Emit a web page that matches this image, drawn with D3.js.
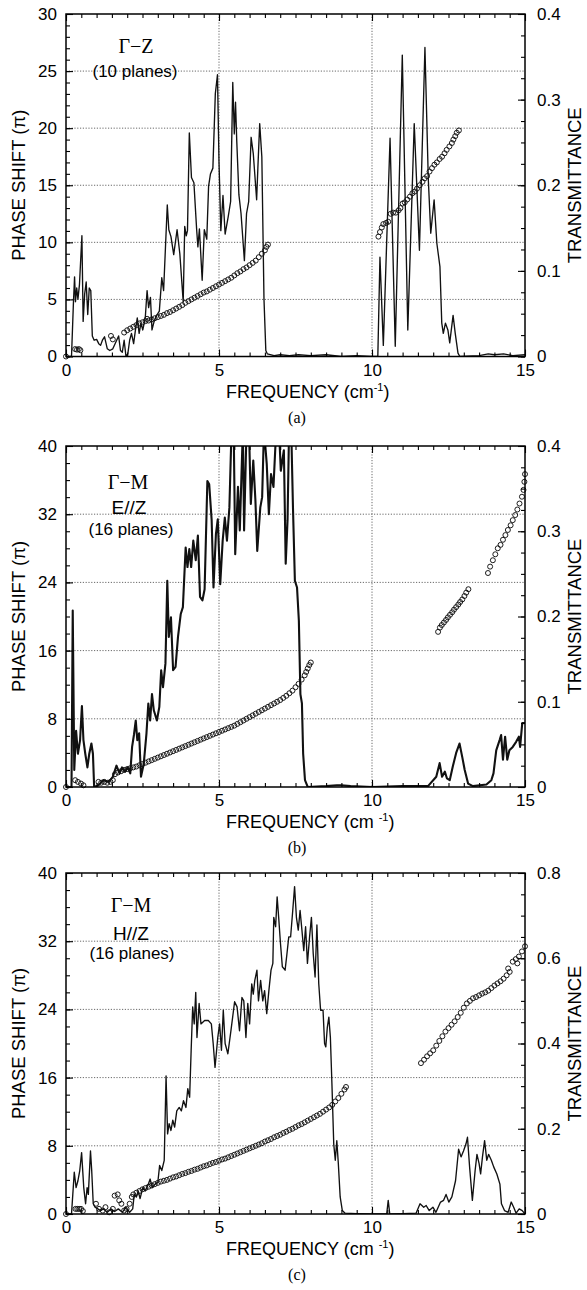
<!DOCTYPE html>
<html>
<head>
<meta charset="utf-8">
<script src="https://cdn.jsdelivr.net/npm/d3@7"></script>
<style>
body { margin: 0; background: #fff; }
</style>
</head>
<body>
<script>
// ---- data ----
var freqTicks = [0, 5, 10, 15];
var phaseTicksA = [0, 5, 10, 15, 20, 25, 30];
var transTicksA = [0, 0.1, 0.2, 0.3, 0.4];
var phaseTicksB = [0, 8, 16, 24, 32, 40];
var transTicksB = [0, 0.1, 0.2, 0.3, 0.4];
var phaseTicksC = [0, 8, 16, 24, 32, 40];
var transTicksC = [0, 0.2, 0.4, 0.6, 0.8];

// (a) Gamma-Z, phase shift (pi) as circles, transmittance as line
var phaseA = [[0,0],[0.3,0.65],[0.36,0.6],[0.42,0.65],[0.47,0.55],[1.47,1.8],[1.53,1.5],
  [1.9,2.1],[2.0,2.3],[2.1,2.45],[2.2,2.6],[2.3,2.75],[2.4,2.9],[2.5,3.0],[2.6,3.1],[2.65,3.3],
  [2.7,3.15],[2.8,3.25],[2.9,3.35],[3.0,3.45],[3.1,3.55],[3.2,3.65],[3.3,3.8],[3.4,3.9],[3.5,4.05],
  [3.6,4.2],[3.7,4.35],[3.8,4.5],[3.9,4.7],[4.0,4.85],[4.1,5.0],[4.2,5.15],[4.3,5.3],[4.4,5.45],
  [4.5,5.6],[4.6,5.7],[4.7,5.85],[4.8,6.0],[4.9,6.15],[5.0,6.3],[5.1,6.45],[5.2,6.6],[5.3,6.75],
  [5.4,6.9],[5.5,7.1],[5.6,7.3],[5.7,7.45],[5.8,7.65],[5.9,7.8],[6.0,8.0],[6.1,8.2],[6.2,8.4],
  [6.3,8.7],[6.4,9.0],[6.5,9.3],[6.55,9.6],[6.6,9.8],
  [10.21,10.5],[10.26,10.9],[10.32,11.3],[10.37,11.6],[10.46,11.7],[10.53,11.8],[10.61,12.5],
  [10.69,12.6],[10.78,12.6],[10.87,12.8],[10.93,13.0],[11.0,13.4],[11.07,13.5],[11.15,13.75],
  [11.24,14.0],[11.32,14.3],[11.4,14.45],[11.47,14.7],[11.56,15.0],[11.65,15.3],[11.72,15.6],
  [11.8,15.8],[11.88,16.2],[11.96,16.5],[12.04,16.8],[12.12,17.0],[12.21,17.3],[12.29,17.5],
  [12.37,17.8],[12.44,18.1],[12.53,18.4],[12.61,18.7],[12.66,19.0],[12.72,19.3],[12.77,19.6],[12.84,19.8]];
var transA = [[0,0],[0.18,0],[0.24,0.060],[0.28,0.093],[0.31,0.064],[0.35,0.080],[0.39,0.067],
  [0.44,0.084],[0.49,0.120],[0.52,0.141],[0.56,0.041],[0.61,0.073],[0.66,0.087],[0.71,0.049],
  [0.76,0.080],[0.81,0.077],[0.86,0.024],[0.92,0.019],[1.00,0.020],[1.07,0.015],[1.13,0.013],
  [1.19,0.019],[1.26,0.023],[1.35,0.009],[1.43,0.007],[1.53,0.009],[1.63,0.017],[1.72,0.024],
  [1.78,0.007],[1.84,0.005],[1.90,0.019],[1.96,0],[2.02,0.003],[2.08,0.019],[2.14,0.027],
  [2.21,0.015],[2.27,0.031],[2.33,0.045],[2.39,0.027],[2.45,0.039],[2.51,0.031],[2.59,0.045],
  [2.65,0.077],[2.70,0.057],[2.76,0.069],[2.81,0.031],[2.88,0.041],[2.98,0.049],[3.05,0.053],
  [3.13,0.092],[3.19,0.077],[3.25,0.127],[3.31,0.177],[3.36,0.148],[3.43,0.140],[3.52,0.119],
  [3.63,0.148],[3.72,0.120],[3.83,0.064],[3.88,0.152],[3.93,0.141],[3.97,0.147],[4.03,0.261],
  [4.10,0.209],[4.18,0.203],[4.27,0.148],[4.31,0.128],[4.36,0.149],[4.45,0.089],[4.52,0.148],
  [4.60,0.137],[4.66,0.199],[4.72,0.213],[4.80,0.220],[4.88,0.307],[4.95,0.329],[5.00,0.227],
  [5.06,0.147],[5.13,0.188],[5.20,0.143],[5.30,0.163],[5.38,0.181],[5.45,0.320],[5.50,0.260],
  [5.54,0.297],[5.58,0.252],[5.65,0.189],[5.72,0.167],[5.83,0.112],[5.90,0.167],[5.97,0.181],
  [6.05,0.256],[6.12,0.237],[6.23,0.183],[6.27,0.220],[6.33,0.272],[6.40,0.233],[6.47,0.067],
  [6.53,0.007],[6.58,0.003],[6.8,0.001],[7.0,0.002],[7.3,0.001],[7.6,0.002],[8.0,0.001],
  [8.5,0.002],[9.0,0],[9.5,0.001],[10.0,0],[10.19,0],[10.26,0.116],[10.37,0.013],[10.59,0.255],
  [10.76,0.012],[10.99,0.352],[11.17,0.031],[11.38,0.272],[11.55,0.124],[11.73,0.361],
  [11.84,0.207],[11.92,0.144],[12.03,0.183],[12.12,0.132],[12.22,0.105],[12.28,0.039],
  [12.33,0.027],[12.40,0.039],[12.48,0.031],[12.54,0.016],[12.65,0.048],[12.72,0.027],
  [12.81,0.004],[12.87,0],[13.5,0.001],[13.8,0.003],[14.0,0.002],[14.3,0.003],[14.6,0.001],[15,0.002]];

// (b) Gamma-M, E//Z
var phaseB = [[0,0],[0.3,0.8],[0.39,0.6],[0.49,0.4],[0.57,0.2],[1.06,0.6],[1.15,0.5],[1.25,0.6],
  [1.35,0.5],[1.45,0.6],[1.53,0.8],[1.6,1.5],[1.7,1.7],[1.8,1.85],[1.9,2.0],[2.0,2.1],[2.1,2.2],
  [2.2,2.3],[2.3,2.4],[2.4,2.55],[2.5,2.7],[2.6,2.85],[2.7,3.0],[2.8,3.15],[2.9,3.3],[3.0,3.45],
  [3.1,3.6],[3.2,3.75],[3.3,3.9],[3.4,4.05],[3.5,4.2],[3.6,4.35],[3.7,4.5],[3.8,4.65],[3.9,4.8],
  [4.0,4.95],[4.1,5.1],[4.2,5.25],[4.3,5.4],[4.4,5.55],[4.5,5.7],[4.6,5.85],[4.7,6.0],[4.8,6.15],
  [4.9,6.3],[5.0,6.45],[5.1,6.6],[5.2,6.75],[5.3,6.9],[5.4,7.05],[5.5,7.2],[5.6,7.4],[5.7,7.6],
  [5.8,7.8],[5.9,8.0],[6.0,8.2],[6.1,8.4],[6.2,8.6],[6.3,8.8],[6.4,9.0],[6.5,9.2],[6.6,9.4],
  [6.7,9.6],[6.8,9.8],[6.9,10.0],[7.0,10.2],[7.1,10.45],[7.2,10.7],[7.3,11.0],[7.4,11.3],
  [7.5,11.7],[7.6,12.1],[7.7,12.6],[7.8,13.1],[7.85,13.5],[7.9,13.9],[7.95,14.3],[8.0,14.6],
  [12.16,18.2],[12.22,18.7],[12.28,19.0],[12.35,19.3],[12.42,19.6],[12.48,19.9],[12.55,20.2],
  [12.62,20.5],[12.68,20.8],[12.75,21.1],[12.82,21.4],[12.88,21.7],[12.95,22.0],[13.02,22.4],
  [13.08,22.8],[13.15,23.2],
  [13.79,25.1],[13.86,25.85],[13.95,26.6],[14.03,27.3],[14.11,28.0],[14.2,28.4],[14.28,29.0],
  [14.36,29.55],[14.44,30.15],[14.53,30.7],[14.6,31.3],[14.68,31.9],[14.75,32.55],[14.82,33.25],
  [14.9,34.05],[14.95,34.85],[14.98,35.8],[15.0,36.7]];
var transB = [[0,0],[0.18,0],[0.22,0.207],[0.27,0.020],[0.33,0.066],[0.39,0.039],[0.46,0.055],
  [0.52,0.095],[0.57,0.055],[0.63,0.039],[0.70,0.023],[0.76,0.039],[0.83,0.051],[0.88,0.039],
  [0.92,0],[1.06,0.002],[1.22,0.008],[1.40,0.006],[1.53,0.012],[1.65,0.025],[1.75,0.016],
  [1.83,0.023],[1.93,0.018],[2.01,0.023],[2.10,0.016],[2.16,0.047],[2.22,0.061],[2.28,0.078],
  [2.33,0.055],[2.39,0.063],[2.45,0.012],[2.54,0.027],[2.63,0.063],[2.69,0.098],[2.75,0.078],
  [2.81,0.109],[2.87,0.090],[2.97,0.078],[3.05,0.094],[3.11,0.137],[3.17,0.117],[3.25,0.145],
  [3.31,0.242],[3.36,0.176],[3.43,0.199],[3.50,0.137],[3.58,0.141],[3.66,0.176],[3.75,0.203],
  [3.82,0.211],[3.91,0.281],[3.97,0.258],[4.03,0.279],[4.09,0.258],[4.16,0.289],[4.24,0.266],
  [4.31,0.295],[4.38,0.223],[4.46,0.219],[4.53,0.232],[4.62,0.359],[4.68,0.355],[4.76,0.313],
  [4.82,0.234],[4.90,0.297],[4.96,0.314],[5.04,0.238],[5.12,0.289],[5.19,0.316],[5.26,0.289],
  [5.34,0.328],[5.41,0.42],[5.48,0.42],[5.53,0.273],[5.62,0.352],[5.68,0.301],[5.78,0.42],
  [5.82,0.301],[5.90,0.42],[5.98,0.42],[6.04,0.332],[6.12,0.383],[6.19,0.336],[6.25,0.277],
  [6.35,0.328],[6.41,0.340],[6.47,0.42],[6.56,0.379],[6.63,0.320],[6.70,0.367],[6.78,0.352],
  [6.87,0.42],[6.96,0.42],[7.02,0.371],[7.12,0.395],[7.18,0.262],[7.24,0.313],[7.29,0.42],
  [7.36,0.42],[7.42,0.324],[7.48,0.242],[7.55,0.234],[7.61,0.195],[7.66,0.109],[7.71,0.098],
  [7.75,0.039],[7.81,0.008],[7.90,0],[8.5,0.001],[8.85,0.002],[9.0,0.002],[9.3,0.001],[10,0],
  [11,0.001],[11.83,0.001],[12.10,0.012],[12.21,0.028],[12.29,0.012],[12.38,0.018],[12.45,0.010],
  [12.54,0.008],[12.64,0.024],[12.75,0.040],[12.86,0.051],[12.95,0.035],[13.03,0.020],
  [13.14,0.004],[13.3,0.001],[13.74,0.003],[13.90,0.008],[13.97,0.016],[14.06,0.043],
  [14.17,0.055],[14.22,0.061],[14.28,0.032],[14.35,0.059],[14.42,0.032],[14.49,0.043],
  [14.60,0.047],[14.71,0.053],[14.80,0.059],[14.84,0.047],[14.91,0.075],[15.0,0.075]];

// (c) Gamma-M, H//Z
var phaseC = [[0,0],[0.31,0.6],[0.37,0.6],[0.43,0.6],[0.49,0.6],[0.55,0.35],[0.98,1.2],[1.08,0.6],
  [1.2,0.4],[1.29,0.8],[1.41,0.2],[1.53,0.6],[1.59,2.15],[1.69,2.3],[1.74,1.6],[1.81,1.2],
  [1.9,0.4],[1.98,0.6],[2.08,1.2],[2.15,2.0],[2.2,2.3],[2.3,2.5],[2.4,2.7],[2.5,2.9],[2.6,3.05],
  [2.7,3.2],[2.8,3.35],[2.9,3.5],[3.0,3.65],[3.1,3.8],[3.2,3.9],[3.3,4.0],[3.4,4.15],[3.5,4.3],
  [3.6,4.4],[3.7,4.55],[3.8,4.7],[3.9,4.8],[4.0,4.95],[4.1,5.05],[4.2,5.2],[4.3,5.3],[4.4,5.45],
  [4.5,5.6],[4.6,5.7],[4.7,5.85],[4.8,6.0],[4.9,6.1],[5.0,6.25],[5.1,6.4],[5.2,6.5],[5.3,6.65],
  [5.4,6.8],[5.5,6.95],[5.6,7.1],[5.7,7.25],[5.8,7.4],[5.9,7.55],[6.0,7.7],[6.1,7.85],[6.2,8.0],
  [6.3,8.15],[6.4,8.3],[6.5,8.5],[6.6,8.65],[6.7,8.8],[6.8,9.0],[6.9,9.15],[7.0,9.3],[7.1,9.5],
  [7.2,9.65],[7.3,9.85],[7.4,10.0],[7.5,10.2],[7.6,10.4],[7.7,10.55],[7.8,10.75],[7.9,10.95],
  [8.0,11.15],[8.1,11.35],[8.2,11.55],[8.3,11.75],[8.4,12.0],[8.5,12.25],[8.6,12.5],[8.7,12.8],
  [8.8,13.2],[8.9,13.6],[9.0,14.1],[9.1,14.6],[9.15,14.9],
  [11.6,17.7],[11.7,18.1],[11.8,18.5],[11.9,18.85],[12.0,19.2],[12.1,19.75],[12.2,20.3],
  [12.3,20.85],[12.4,21.4],[12.5,21.8],[12.6,22.2],[12.7,22.6],[12.8,23.1],[12.9,23.6],
  [13.0,24.2],[13.1,24.7],[13.2,25.0],[13.3,25.3],[13.4,25.45],[13.5,25.65],[13.6,25.85],
  [13.7,26.0],[13.8,26.2],[13.9,26.5],[14.0,26.8],[14.1,27.05],[14.2,27.3],[14.3,27.6],
  [14.4,28.0],[14.45,28.8],[14.5,28.4],[14.6,29.6],[14.7,29.9],[14.75,29.4],[14.8,30.2],
  [14.9,30.8],[15.0,31.4]];
var transC = [[0,0],[0.18,0],[0.27,0.098],[0.33,0.062],[0.39,0.078],[0.45,0.102],[0.51,0.144],
  [0.58,0.062],[0.64,0.024],[0.69,0.062],[0.73,0.046],[0.80,0.148],[0.84,0.102],[0.89,0.024],
  [0.95,0.016],[1.04,0.012],[1.13,0.008],[1.22,0.012],[1.35,0.004],[1.47,0.012],[1.59,0.006],
  [1.71,0.012],[1.84,0.004],[1.96,0.016],[2.08,0.004],[2.18,0.012],[2.23,0.046],[2.30,0.040],
  [2.36,0.054],[2.42,0.036],[2.51,0.062],[2.59,0.054],[2.69,0.070],[2.75,0.082],[2.82,0.062],
  [2.91,0.070],[3.00,0.074],[3.06,0.114],[3.13,0.102],[3.21,0.126],[3.27,0.324],[3.32,0.188],
  [3.37,0.212],[3.43,0.196],[3.49,0.220],[3.55,0.204],[3.62,0.242],[3.70,0.250],[3.77,0.242],
  [3.84,0.266],[3.92,0.250],[3.98,0.294],[4.04,0.274],[4.09,0.384],[4.14,0.486],[4.19,0.446],
  [4.24,0.520],[4.28,0.414],[4.35,0.494],[4.41,0.446],[4.53,0.454],[4.65,0.454],[4.75,0.446],
  [4.81,0.400],[4.87,0.344],[4.96,0.414],[5.02,0.446],[5.08,0.384],[5.14,0.478],[5.20,0.400],
  [5.29,0.376],[5.39,0.430],[5.51,0.498],[5.59,0.486],[5.67,0.430],[5.75,0.508],[5.81,0.500],
  [5.88,0.414],[5.94,0.494],[6.00,0.446],[6.07,0.540],[6.12,0.516],[6.17,0.548],[6.24,0.572],
  [6.29,0.500],[6.36,0.548],[6.43,0.500],[6.49,0.524],[6.56,0.470],[6.63,0.524],[6.70,0.572],
  [6.76,0.588],[6.79,0.696],[6.85,0.674],[6.90,0.744],[6.95,0.696],[7.01,0.634],[7.07,0.580],
  [7.16,0.572],[7.22,0.610],[7.28,0.650],[7.34,0.650],[7.41,0.712],[7.47,0.768],[7.53,0.696],
  [7.59,0.666],[7.65,0.712],[7.71,0.666],[7.77,0.618],[7.83,0.674],[7.89,0.588],[7.96,0.650],
  [8.02,0.696],[8.08,0.610],[8.14,0.556],[8.20,0.678],[8.26,0.540],[8.32,0.478],[8.40,0.478],
  [8.45,0.400],[8.49,0.392],[8.54,0.438],[8.59,0.462],[8.64,0.414],[8.69,0.306],[8.75,0.164],
  [8.80,0.126],[8.85,0.172],[8.90,0.118],[8.96,0.040],[9.03,0.008],[9.12,0.002],[9.5,0.001],
  [10.0,0],[10.48,0],[10.53,0.032],[10.58,0],[11.0,0.001],[11.44,0.002],[11.57,0.024],
  [11.69,0.016],[11.77,0.020],[11.87,0.008],[11.99,0.016],[12.09,0.004],[12.24,0.028],
  [12.34,0.032],[12.42,0.046],[12.51,0.028],[12.61,0.040],[12.73,0.078],[12.83,0.152],
  [12.91,0.134],[12.99,0.148],[13.07,0.164],[13.12,0.180],[13.19,0.110],[13.28,0.032],
  [13.37,0.102],[13.43,0.140],[13.50,0.118],[13.55,0.094],[13.61,0.134],[13.68,0.172],
  [13.75,0.126],[13.81,0.140],[13.90,0.126],[13.98,0.110],[14.08,0.094],[14.18,0.070],
  [14.23,0.024],[14.33,0.008],[14.45,0.004],[14.55,0.028],[14.63,0.016],[14.71,0.002],
  [14.81,0.012],[14.91,0.008],[15.0,0]];

// ---- drawing ----
var canvas = d3.select("body").append("svg")
    .attr("width", 587)
    .attr("height", 1290);

var sans = "'Liberation Sans', Arial, Helvetica, sans-serif";
var serif = "'Liberation Serif', 'Times New Roman', serif";
var plotLeft = 66;
var plotRight = 525;

var panels = [
    {id: "a", top: 14, bottom: 356.5, phaseMax: 30, phaseTicks: phaseTicksA, phaseMinor: 1,
     transMax: 0.4, transTicks: transTicksA, transMinor: 0.025, phase: phaseA, trans: transA,
     lineWidth: 1.35, caption: "(a)", supGap: "",
     notes: [{t: "\u0393\u2212Z", x: 136, y: 53, f: serif, s: 20},
             {t: "(10 planes)", x: 135, y: 77, f: sans, s: 17}]},
    {id: "b", top: 446, bottom: 787, phaseMax: 40, phaseTicks: phaseTicksB, phaseMinor: 2,
     transMax: 0.4, transTicks: transTicksB, transMinor: 0.025, phase: phaseB, trans: transB,
     lineWidth: 2.1, caption: "(b)", supGap: " ",
     notes: [{t: "\u0393\u2212M", x: 128, y: 489, f: serif, s: 20},
             {t: "E//Z", x: 129, y: 514, f: sans, s: 19},
             {t: "(16 planes)", x: 131, y: 535, f: sans, s: 17}]},
    {id: "c", top: 873, bottom: 1214, phaseMax: 40, phaseTicks: phaseTicksC, phaseMinor: 2,
     transMax: 0.8, transTicks: transTicksC, transMinor: 0.05, phase: phaseC, trans: transC,
     lineWidth: 1.35, caption: "(c)", supGap: " ",
     notes: [{t: "\u0393\u2212M", x: 131, y: 912, f: serif, s: 20},
             {t: "H//Z", x: 131, y: 940, f: sans, s: 19},
             {t: "(16 planes)", x: 132, y: 959, f: sans, s: 17}]}
];

panels.forEach(drawPanel);

function styleAxis(sel) {
    sel.select(".domain").remove();
    sel.selectAll("line").attr("stroke", "#000").attr("stroke-width", 1.1);
    sel.selectAll("text")
        .attr("font-family", sans)
        .attr("font-size", 17)
        .attr("fill", "#000");
}

function drawPanel(p) {
    var x = d3.scaleLinear().domain([0, 15]).range([plotLeft, plotRight]);
    var yPhase = d3.scaleLinear().domain([0, p.phaseMax]).range([p.bottom, p.top]);
    var yTrans = d3.scaleLinear().domain([0, p.transMax]).range([p.bottom, p.top]);
    var g = canvas.append("g");

    // dotted grid on the phase ticks and inner frequency ticks
    g.selectAll(".hgrid").data(p.phaseTicks.slice(1, -1)).enter().append("line")
        .attr("x1", plotLeft).attr("x2", plotRight)
        .attr("y1", function(d) { return yPhase(d); })
        .attr("y2", function(d) { return yPhase(d); })
        .attr("stroke", "#444").attr("stroke-width", 0.8)
        .attr("stroke-dasharray", "1.2,1.6");
    g.selectAll(".vgrid").data(freqTicks.slice(1, -1)).enter().append("line")
        .attr("y1", p.top).attr("y2", p.bottom)
        .attr("x1", function(d) { return x(d); })
        .attr("x2", function(d) { return x(d); })
        .attr("stroke", "#444").attr("stroke-width", 0.8)
        .attr("stroke-dasharray", "1.2,1.6");

    g.append("clipPath").attr("id", "clip-" + p.id)
        .append("rect")
        .attr("x", plotLeft).attr("y", p.top)
        .attr("width", plotRight - plotLeft).attr("height", p.bottom - p.top);

    var line = d3.line()
        .x(function(d) { return x(d[0]); })
        .y(function(d) { return yTrans(d[1]); });
    g.append("path").datum(p.trans)
        .attr("d", line)
        .attr("fill", "none")
        .attr("stroke", "#111")
        .attr("stroke-width", p.lineWidth)
        .attr("stroke-linejoin", "round")
        .attr("clip-path", "url(#clip-" + p.id + ")");

    g.selectAll(".pt").data(p.phase).enter().append("circle")
        .attr("cx", function(d) { return x(d[0]); })
        .attr("cy", function(d) { return yPhase(d[1]); })
        .attr("r", 2.5)
        .attr("fill", "none")
        .attr("stroke", "#111")
        .attr("stroke-width", 0.95);

    // axes, ticks inward
    g.append("g").attr("transform", "translate(" + plotLeft + ",0)")
        .call(d3.axisLeft(yPhase).tickValues(p.phaseTicks).tickSize(-7).tickPadding(9)
            .tickFormat(d3.format("d")))
        .call(styleAxis);
    g.append("g").attr("transform", "translate(" + plotLeft + ",0)")
        .call(d3.axisLeft(yPhase).tickValues(d3.range(0, p.phaseMax, p.phaseMinor))
            .tickSize(-4).tickFormat(""))
        .call(styleAxis);
    g.append("g").attr("transform", "translate(" + plotRight + ",0)")
        .call(d3.axisRight(yTrans).tickValues(p.transTicks).tickSize(-7).tickPadding(12)
            .tickFormat(function(d) { return d === 0 ? "0" : d3.format(".1f")(d); }))
        .call(styleAxis);
    g.append("g").attr("transform", "translate(" + plotRight + ",0)")
        .call(d3.axisRight(yTrans).tickValues(d3.range(0, p.transMax, p.transMinor))
            .tickSize(-4).tickFormat(""))
        .call(styleAxis);
    g.append("g").attr("transform", "translate(0," + p.bottom + ")")
        .call(d3.axisBottom(x).tickValues(freqTicks).tickSize(-7).tickPadding(7))
        .call(styleAxis);
    g.append("g").attr("transform", "translate(0," + p.bottom + ")")
        .call(d3.axisBottom(x).tickValues(d3.range(0, 15, 0.5)).tickSize(-4).tickFormat(""))
        .call(styleAxis);
    g.append("g").attr("transform", "translate(0," + p.top + ")")
        .call(d3.axisTop(x).tickValues(freqTicks).tickSize(-7).tickFormat(""))
        .call(styleAxis);
    g.append("g").attr("transform", "translate(0," + p.top + ")")
        .call(d3.axisTop(x).tickValues(d3.range(0, 15, 0.5)).tickSize(-4).tickFormat(""))
        .call(styleAxis);

    g.append("rect")
        .attr("x", plotLeft).attr("y", p.top)
        .attr("width", plotRight - plotLeft).attr("height", p.bottom - p.top)
        .attr("fill", "none").attr("stroke", "#000").attr("stroke-width", 1.5);

    var mid = (p.top + p.bottom) / 2;
    g.append("text")
        .attr("transform", "translate(25," + mid + ") rotate(-90)")
        .attr("text-anchor", "middle")
        .attr("font-family", sans).attr("font-size", 18.5)
        .text("PHASE SHIFT (\u03c0)");
    g.append("text")
        .attr("transform", "translate(581," + mid + ") rotate(-90)")
        .attr("text-anchor", "middle")
        .attr("font-family", sans).attr("font-size", 18.5)
        .text("TRANSMITTANCE");

    var xt = g.append("text")
        .attr("x", 226).attr("y", p.bottom + 41)
        .attr("font-family", sans).attr("font-size", 18);
    xt.append("tspan").text("FREQUENCY (cm" + p.supGap);
    xt.append("tspan").attr("dy", -7).attr("font-size", 11).text("-1");
    xt.append("tspan").attr("dy", 7).text(")");

    g.append("text")
        .attr("x", 297).attr("y", p.bottom + 66)
        .attr("text-anchor", "middle")
        .attr("font-family", serif).attr("font-size", 16)
        .text(p.caption);

    g.selectAll(".note").data(p.notes).enter().append("text")
        .attr("x", function(d) { return d.x; })
        .attr("y", function(d) { return d.y; })
        .attr("text-anchor", "middle")
        .attr("font-family", function(d) { return d.f; })
        .attr("font-size", function(d) { return d.s; })
        .text(function(d) { return d.t; });
}
</script>
</body>
</html>
